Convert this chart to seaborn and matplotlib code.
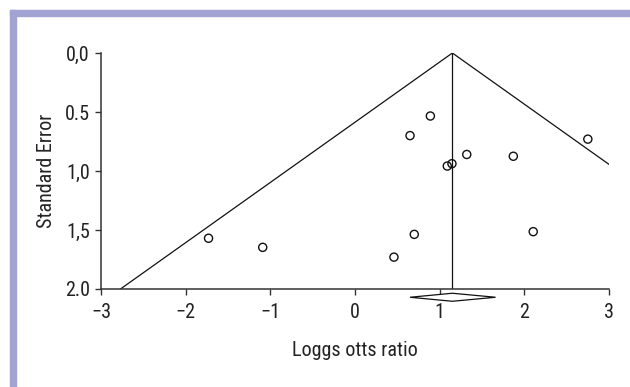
import numpy as np
import matplotlib
matplotlib.use("Agg")
import matplotlib.pyplot as plt
from matplotlib.patches import Rectangle
import seaborn as sns

# Study estimates
log_or = [-1.73, -1.09, 0.46, 0.70, 0.65, 0.89, 1.09, 1.145, 1.32, 1.87, 2.105, 2.75]
std_err = [1.57, 1.647, 1.73, 1.537, 0.70, 0.534, 0.958, 0.938, 0.86, 0.875, 1.514, 0.73]

# Pooled estimate and its confidence interval (diamond)
pooled = 1.15
ci_low = 0.65
ci_high = 1.66

x_ticks = [-3, -2, -1, 0, 1, 2, 3]
y_ticks = [0.0, 0.5, 1.0, 1.5, 2.0]
y_tick_labels = ["0,0", "0.5", "1,0", "1,5", "2.0"]

sns.set_style("ticks")
plt.rcParams["font.family"] = ["Liberation Sans Narrow", "Roboto Condensed",
                               "DejaVu Sans Condensed", "Liberation Sans", "DejaVu Sans"]

fig = plt.figure(figsize=(6.3, 3.87), dpi=100)
ax = fig.add_axes([101 / 630, 1 - 289 / 387, 508 / 630, 236 / 387])

# Purple frame at top and left
frame_col = "#a3a3d3"
fig.patches.append(Rectangle((10 / 630, 1 - 16 / 387), 1, 6 / 387, transform=fig.transFigure,
                             color=frame_col, zorder=0))
fig.patches.append(Rectangle((10 / 630, 0), 6 / 630, 1 - 10 / 387, transform=fig.transFigure,
                             color=frame_col, zorder=0))

# Funnel lines (pseudo 95% limits)
se_grid = np.array([0.0, 2.0])
ax.plot(pooled - 1.96 * se_grid, se_grid, color="#111111", lw=0.9)
ax.plot(pooled + 1.96 * se_grid, se_grid, color="#111111", lw=0.9)
ax.plot([pooled, pooled], [0, 2.0], color="#111111", lw=0.9)

sns.scatterplot(x=log_or, y=std_err, ax=ax, marker="o", s=34,
                facecolor="none", edgecolor="#111111", linewidth=1.0, zorder=3)

# Diamond for the pooled estimate, below the axis
dy = 2.07
dh = 0.034
ax.fill([ci_low, pooled, ci_high, pooled], [dy, dy - dh, dy, dy + dh],
        facecolor="white", edgecolor="#111111", lw=0.9, clip_on=False, zorder=4)

ax.set_xlim(-3, 3)
ax.set_ylim(2.0, 0.0)
ax.set_xticks(x_ticks)
ax.set_xticklabels([str(t).replace("-", "\u2212") for t in x_ticks])
ax.set_yticks(y_ticks)
ax.set_yticklabels(y_tick_labels)

for s in ["top", "right"]:
    ax.spines[s].set_visible(False)
for s in ["left", "bottom"]:
    ax.spines[s].set_color("#333333")
    ax.spines[s].set_linewidth(1.1)

ax.tick_params(axis="both", length=4, width=1.0, color="#333333",
               labelsize=14.5, labelcolor="#222222")
ax.tick_params(axis="x", pad=6)
ax.tick_params(axis="y", pad=4)
ax.set_xlabel("Loggs otts ratio", fontsize=14.5, color="#222222", labelpad=14)
ax.set_ylabel("Standard Error", fontsize=14.5, color="#222222", labelpad=6)

fig.savefig("out.png", dpi=100)
